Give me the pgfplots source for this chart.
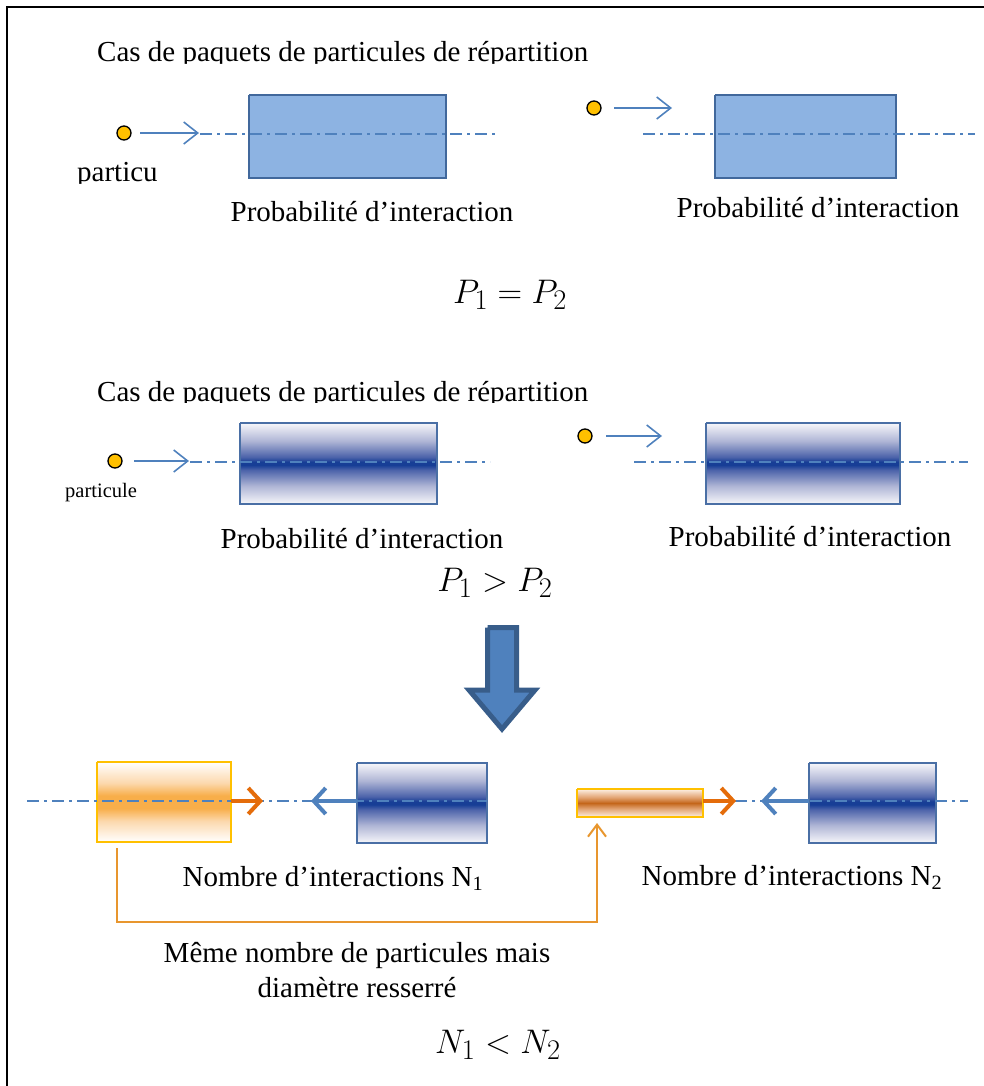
\documentclass[border=0pt]{standalone}
\usepackage{fontspec}
\setmainfont{Liberation Serif}
\usepackage{pgfplots}
\pgfplotsset{compat=1.18}
\usetikzlibrary{arrows.meta}
\definecolor{blueline}{HTML}{4F81BD}
\definecolor{boxfill}{HTML}{8DB3E2}
\definecolor{boxbord}{HTML}{41689C}
\definecolor{gbord}{HTML}{4A6FA5}
\definecolor{bw}{HTML}{F7F7FA}
\definecolor{bl}{HTML}{B0B6D6}
\definecolor{bm}{HTML}{4C63AA}
\definecolor{bd}{HTML}{173E96}
\definecolor{ol}{HTML}{FCD9AE}
\definecolor{om}{HTML}{F8AE4A}
\definecolor{brl}{HTML}{FDF0E4}
\definecolor{brm}{HTML}{E2A372}
\definecolor{brd}{HTML}{C4661A}
\definecolor{gold}{HTML}{FFC000}
\definecolor{orarrow}{HTML}{E46C0A}
\definecolor{conn}{HTML}{E8962E}
\definecolor{bigfill}{HTML}{4F81BD}
\definecolor{bigbord}{HTML}{385D8A}
\pgfdeclareverticalshading{bluebar}{100bp}{color(0bp)=(bw); color(25bp)=(bw); color(36bp)=(bl); color(46bp)=(bm); color(49bp)=(bd); color(51bp)=(bd); color(54bp)=(bm); color(64bp)=(bl); color(75bp)=(bw); color(100bp)=(bw)}
\pgfdeclareverticalshading{orangebar}{100bp}{color(0bp)=(white); color(25bp)=(white); color(38bp)=(ol); color(46bp)=(om); color(54bp)=(om); color(62bp)=(ol); color(75bp)=(white); color(100bp)=(white)}
\pgfdeclareverticalshading{brownbar}{100bp}{color(0bp)=(brl); color(25bp)=(brl); color(40bp)=(brm); color(50bp)=(brd); color(60bp)=(brm); color(75bp)=(brl); color(100bp)=(brl)}
\newcommand\fs{\fontsize{29}{34}\selectfont}
\newcommand\fss{\fontsize{20.5}{24}\selectfont}
\begin{document}
\begin{tikzpicture}
\begin{axis}[scale only axis, width=984pt, height=1086pt,
  xmin=0, xmax=984, ymin=0, ymax=1086, y dir=reverse, hide axis]
% frame
\addplot[black, line width=2.4pt] coordinates {(7,1086) (7,7) (984,7)};
% ---------- section 1 ----------
\addplot[fill=boxfill, draw=boxbord, line width=2pt] coordinates {(249,95) (446,95) (446,178) (249,178) (249,95)};
\addplot[fill=boxfill, draw=boxbord, line width=2pt] coordinates {(715,95) (896,95) (896,178) (715,178) (715,95)};
\addplot[blueline, line width=1.6pt, dash pattern=on 12pt off 5pt on 3pt off 5pt] coordinates {(200,134) (497,134)};
\addplot[blueline, line width=1.6pt, dash pattern=on 12pt off 5pt on 3pt off 5pt] coordinates {(643,134) (975,134)};
\addplot[blueline, line width=1.6pt, -{Straight Barb[length=14pt,width=22pt,line width=1.6pt]}] coordinates {(140,133) (199,133)};
\addplot[blueline, line width=1.6pt, -{Straight Barb[length=14pt,width=22pt,line width=1.6pt]}] coordinates {(614,108) (672,108)};
% ---------- section 2 ----------
\addplot[shade, shading=bluebar, draw=gbord, line width=2pt] coordinates {(240,423) (437,423) (437,504) (240,504) (240,423)};
\addplot[shade, shading=bluebar, draw=gbord, line width=2pt] coordinates {(706,423) (900,423) (900,504) (706,504) (706,423)};
\addplot[blueline, line width=1.6pt, dash pattern=on 12pt off 5pt on 3pt off 5pt] coordinates {(190,462) (490,462)};
\addplot[blueline, line width=1.6pt, dash pattern=on 12pt off 5pt on 3pt off 5pt] coordinates {(634,462) (968,462)};
\addplot[blueline, line width=1.6pt, -{Straight Barb[length=14pt,width=22pt,line width=1.6pt]}] coordinates {(134,461) (189,461)};
\addplot[blueline, line width=1.6pt, -{Straight Barb[length=14pt,width=22pt,line width=1.6pt]}] coordinates {(606,436) (662,436)};
% particles
\addplot[only marks, mark=*, mark size=7pt, mark options={fill=gold, draw=black, line width=1.3pt}] coordinates {(124,133) (594,108) (115,461) (585,436)};
% ---------- big arrow ----------
\addplot[fill=bigfill, draw=bigbord, line width=5pt, line join=miter] coordinates {(487.5,627.5) (516.5,627.5) (516.5,690) (535,690) (502,729) (469,690) (487.5,690) (487.5,627.5)};
% ---------- section 3 ----------
\addplot[shade, shading=orangebar, draw=gold, line width=2pt] coordinates {(97,762) (231,762) (231,842) (97,842) (97,762)};
\addplot[shade, shading=bluebar, draw=gbord, line width=2pt] coordinates {(357,763) (487,763) (487,843) (357,843) (357,763)};
\addplot[shade, shading=brownbar, draw=gold, line width=2pt] coordinates {(577,789) (703,789) (703,817) (577,817) (577,789)};
\addplot[shade, shading=bluebar, draw=gbord, line width=2pt] coordinates {(809,763) (936,763) (936,843) (809,843) (809,763)};
\addplot[blueline, line width=1.6pt, dash pattern=on 12pt off 5pt on 3pt off 5pt] coordinates {(27,801) (487,801)};
\addplot[blueline, line width=1.6pt, dash pattern=on 12pt off 5pt on 3pt off 5pt] coordinates {(735,801) (968,801)};
\addplot[orarrow, line width=4pt, -{Straight Barb[length=12pt,width=26pt,line width=4pt]}] coordinates {(231,801) (263,801)};
\addplot[orarrow, line width=4pt, -{Straight Barb[length=12pt,width=26pt,line width=4pt]}] coordinates {(703,801) (736,801)};
\addplot[blueline, line width=4pt, -{Straight Barb[length=12pt,width=26pt,line width=4pt]}] coordinates {(357,801) (311,801)};
\addplot[blueline, line width=4pt, -{Straight Barb[length=12pt,width=26pt,line width=4pt]}] coordinates {(809,801) (761,801)};
\addplot[conn, line width=2pt, -{Straight Barb[length=12pt,width=18pt,line width=2pt]}] coordinates {(117,848) (117,922) (597,922) (597,823)};
% ---------- texts ----------
\node[anchor=base west, inner sep=0, font=\fs] at (axis cs:97,62) {Cas de paquets de particules de répartition};
\node[anchor=base west, inner sep=0, font=\fs] at (axis cs:77,182) {particu};
\node[anchor=base, inner sep=0, font=\fs] at (axis cs:372,222) {Probabilité d’interaction};
\node[anchor=base, inner sep=0, font=\fs] at (axis cs:818,218) {Probabilité d’interaction};
\node[anchor=base, inner sep=0, font=\fs, scale=1.37] at (axis cs:510,303) {$P_1 = P_2$};
\node[anchor=base west, inner sep=0, font=\fs] at (axis cs:97,401) {Cas de paquets de particules de répartition};
\node[anchor=base west, inner sep=0, font=\fss] at (axis cs:65,497) {particule};
\node[anchor=base, inner sep=0, font=\fs] at (axis cs:362,548) {Probabilité d’interaction};
\node[anchor=base, inner sep=0, font=\fs] at (axis cs:810,546) {Probabilité d’interaction};
\node[anchor=base, inner sep=0, font=\fs, scale=1.37] at (axis cs:495,591) {$P_1 > P_2$};
\node[anchor=base, inner sep=0, font=\fs] at (axis cs:333,886) {Nombre d’interactions N\textsubscript{1}};
\node[anchor=base, inner sep=0, font=\fs] at (axis cs:792,885) {Nombre d’interactions N\textsubscript{2}};
\node[anchor=base, inner sep=0, font=\fs] at (axis cs:357,962) {Même nombre de particules mais};
\node[anchor=base, inner sep=0, font=\fs] at (axis cs:357,997) {diamètre resserré};
\node[anchor=base, inner sep=0, font=\fs, scale=1.37] at (axis cs:498,1053) {$N_1 < N_2$};
% clipped text bottoms
\addplot[fill=white, draw=none] coordinates {(90,64) (610,64) (610,76) (90,76) (90,64)};
\addplot[fill=white, draw=none] coordinates {(90,403) (610,403) (610,414) (90,414) (90,403)};
\addplot[fill=white, draw=none] coordinates {(70,184) (175,184) (175,195) (70,195) (70,184)};
\end{axis}
\pgfresetboundingbox
\useasboundingbox (0,0) rectangle (984pt,1086pt);
\end{tikzpicture}
\end{document}
